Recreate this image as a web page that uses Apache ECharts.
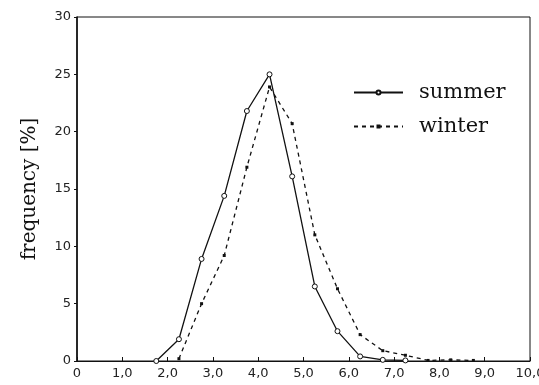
<!DOCTYPE html>
<html>
<head>
<meta charset="utf-8">
<script src="https://cdn.jsdelivr.net/npm/echarts@6/dist/echarts.min.js"></script>
<style>html,body{margin:0;padding:0;background:#fff}#c{width:539px;height:385px}</style>
</head>
<body>
<div id="c"></div>
<script>
var summerX = [1.75, 2.25, 2.75, 3.25, 3.75, 4.25, 4.75, 5.25, 5.75, 6.25, 6.75, 7.25];
var summerY = [0, 1.9, 8.9, 14.4, 21.8, 25.0, 16.1, 6.5, 2.6, 0.4, 0.1, 0.05];
var winterX = [2.25, 2.75, 3.25, 3.75, 4.25, 4.75, 5.25, 5.75, 6.25, 6.75, 7.25, 7.75, 8.25, 8.75];
var winterY = [0.2, 5.0, 9.2, 16.9, 23.9, 20.7, 11.0, 6.3, 2.3, 0.9, 0.5, 0.05, 0.1, 0.05];
var seriesNames = ['summer', 'winter'];
var yTitle = 'frequency [%]';

function pairs(xs, ys) { return xs.map(function (x, i) { return [x, ys[i]]; }); }

var chart = echarts.init(document.getElementById('c'));
chart.setOption({
  animation: false,
  backgroundColor: '#fff',
  grid: { left: 77, right: 9, top: 17, bottom: 24, show: true, borderColor: '#111', borderWidth: 1, backgroundColor: 'transparent', outerBoundsMode: 'none', containLabel: false },
  legend: {
    orient: 'vertical', left: 348, top: 77,
    itemWidth: 49, itemHeight: 5, itemGap: 13,
    data: seriesNames,
    textStyle: { fontFamily: 'DejaVu Serif', fontSize: 21, color: '#111', padding: [0, 0, 0, 11] }
  },
  xAxis: {
    type: 'value', min: 0, max: 10, interval: 1,
    axisLine: { lineStyle: { color: '#111', width: 1 } },
    axisTick: { inside: true, length: 4, lineStyle: { color: '#111' } },
    splitLine: { show: false },
    axisLabel: {
      margin: 6, color: '#222', fontFamily: 'DejaVu Sans', fontSize: 13, hideOverlap: false,
      formatter: function (v) { return v === 0 ? '0' : v.toFixed(1).replace('.', ','); }
    }
  },
  yAxis: {
    type: 'value', min: 0, max: 30, interval: 5,
    name: yTitle, nameLocation: 'middle', nameGap: 37, nameRotate: 90,
    nameTextStyle: { fontFamily: 'DejaVu Serif', fontSize: 20, color: '#111' },
    axisLine: { show: true, lineStyle: { color: '#111', width: 1.6 } },
    axisTick: { show: true, inside: false, length: 3, lineStyle: { color: '#111' } },
    splitLine: { show: false },
    axisLabel: { margin: 6, color: '#222', fontFamily: 'DejaVu Sans', fontSize: 13 }
  },
  series: [
    {
      name: seriesNames[0], type: 'line', data: pairs(summerX, summerY),
      symbol: 'circle', symbolSize: 5, showSymbol: true,
      lineStyle: { color: '#111', width: 1.3, type: 'solid' },
      itemStyle: { color: '#fff', borderColor: '#111', borderWidth: 1 }
    },
    {
      name: seriesNames[1], type: 'line', data: pairs(winterX, winterY),
      symbol: 'rect', symbolSize: 3, showSymbol: true,
      lineStyle: { color: '#111', width: 1.3, type: [4, 4] },
      itemStyle: { color: '#111', borderColor: '#111', borderWidth: 0 }
    }
  ]
});
</script>
</body>
</html>
